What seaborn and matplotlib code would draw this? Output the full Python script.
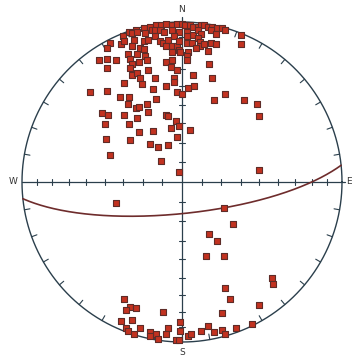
import numpy as np
import matplotlib
matplotlib.use("Agg")
import matplotlib.pyplot as plt
import seaborn as sns

# Poles plotted on a lower-hemisphere equal-area (Schmidt) net,
# given as projected coordinates (east, north) in units of the net radius.
pole_east = [
    # near-horizontal poles close to N
    -0.33, -0.29, -0.24, -0.20, -0.16, -0.13, -0.10, -0.06, -0.03, 0.00, 0.02,
    0.05, 0.07, 0.10, 0.12, 0.14, 0.16, 0.19, 0.22, 0.25, 0.27,
    -0.37, -0.31, -0.28, -0.23, -0.19, -0.17, -0.14, -0.11, -0.06, -0.02,
    0.03, 0.07, 0.10, 0.12, 0.18, 0.21,
    -0.45, -0.47, -0.38, -0.36, -0.30, -0.31, -0.26, -0.24, -0.24, -0.21,
    -0.17, -0.14, -0.12, -0.09, -0.10, -0.06, -0.05, -0.03, -0.02, -0.02,
    0.03, 0.03, 0.06, 0.10, 0.11, 0.11, 0.09, 0.14, 0.18, 0.21, 0.37, 0.37,
    0.04, 0.16,
    -0.34, -0.28, -0.23, -0.06, -0.01, -0.52, -0.47, -0.41, -0.325, -0.31,
    -0.27, -0.22, -0.10, -0.06, 0.03, 0.03, 0.17, -0.47, -0.325, -0.31,
    -0.28, -0.26, -0.21, -0.17, -0.07, -0.03, -0.05, 0.07, 0.19,
    -0.36, -0.25, -0.10, -0.05, -0.18, -0.03, 0.00, 0.075, 0.04, -0.575,
    -0.47, -0.39, -0.33, -0.16, 0.20, 0.27, 0.39, 0.47, 0.48,
    -0.34, -0.29, -0.27, -0.22, -0.21, -0.50, -0.46, -0.36, -0.28, -0.48,
    -0.33, -0.27, -0.18, -0.10, -0.09, -0.04, -0.07, -0.02, -0.03, 0.05,
    -0.475, -0.325, -0.20, -0.15, -0.09, -0.45, -0.13, -0.02, 0.48,
    # southern half
    -0.41, 0.26, 0.32, 0.17, 0.22, 0.15, 0.26, 0.56, 0.57, 0.27, 0.30, 0.48,
    0.25, -0.36, -0.325, -0.29, -0.35, -0.12, -0.38, -0.31, -0.35, -0.34,
    -0.30, -0.26, -0.20, -0.16, -0.15, -0.09, -0.10, -0.04, -0.02, -0.01,
    -0.01, 0.035, 0.055, 0.12, 0.16, 0.20, 0.25, 0.27, 0.34, 0.44, -0.20,
]
pole_north = [
    0.94, 0.95, 0.96, 0.97, 0.98, 0.98, 0.99, 0.98, 0.99, 0.99, 0.98,
    0.98, 0.97, 0.97, 0.98, 0.98, 0.97, 0.97, 0.96, 0.96, 0.95,
    0.91, 0.93, 0.94, 0.93, 0.95, 0.95, 0.95, 0.94, 0.95, 0.94,
    0.94, 0.92, 0.95, 0.925, 0.95, 0.925,
    0.87, 0.84, 0.86, 0.88, 0.89, 0.85, 0.84, 0.88, 0.83, 0.89,
    0.91, 0.88, 0.87, 0.89, 0.85, 0.85, 0.91, 0.85, 0.88, 0.825,
    0.91, 0.87, 0.87, 0.90, 0.875, 0.85, 0.84, 0.86, 0.87, 0.86, 0.92, 0.86,
    0.81, 0.82,
    0.80, 0.80, 0.79, 0.81, 0.81, 0.76, 0.77, 0.76, 0.77, 0.74,
    0.75, 0.76, 0.75, 0.76, 0.79, 0.76, 0.74, 0.71, 0.71, 0.67,
    0.68, 0.65, 0.70, 0.65, 0.72, 0.70, 0.65, 0.67, 0.65,
    0.62, 0.61, 0.60, 0.625, 0.58, 0.56, 0.55, 0.60, 0.59, 0.56,
    0.57, 0.53, 0.53, 0.52, 0.51, 0.55, 0.51, 0.49, 0.41,
    0.49, 0.46, 0.47, 0.49, 0.44, 0.43, 0.42, 0.42, 0.40, 0.36,
    0.36, 0.31, 0.32, 0.42, 0.41, 0.38, 0.34, 0.35, 0.28, 0.325,
    0.27, 0.26, 0.24, 0.22, 0.23, 0.17, 0.13, 0.06, 0.075,
    -0.13, -0.16, -0.26, -0.325, -0.37, -0.46, -0.46, -0.60, -0.64, -0.66, -0.73, -0.77,
    -0.82, -0.73, -0.78, -0.79, -0.80, -0.81, -0.87, -0.86, -0.91, -0.93,
    -0.95, -0.91, -0.94, -0.95, -0.98, -0.91, -0.95, -0.99, -0.99, -0.875,
    -0.93, -0.96, -0.95, -0.93, -0.90, -0.935, -0.925, -0.95, -0.91, -0.89, -0.96,
]

# Mean plane drawn as a great circle
plane_dip_direction = 174.0
plane_dip = 74.0

compass_labels = ["N", "E", "S", "W"]
tick_interval = 10

net_color = "#2b3f4c"
plane_color = "#6e2c2c"
pole_face = "#c23220"
pole_edge = "#5e2c28"


def equal_area(trend, plunge):
    """Lower-hemisphere Schmidt projection of lines (degrees)."""
    trend = np.radians(np.asarray(trend, dtype=float))
    plunge = np.asarray(plunge, dtype=float)
    r = np.sqrt(2.0) * np.sin(np.radians(90.0 - plunge) / 2.0)
    return r * np.sin(trend), r * np.cos(trend)


def great_circle(dip_direction, dip, n=361):
    strike = np.radians(dip_direction - 90.0)
    dd = np.radians(dip_direction)
    d = np.radians(dip)
    s_vec = np.array([np.sin(strike), np.cos(strike), 0.0])
    d_vec = np.array([np.sin(dd) * np.cos(d), np.cos(dd) * np.cos(d), np.sin(d)])
    t = np.linspace(0.0, np.pi, n)
    v = np.outer(np.cos(t), s_vec) + np.outer(np.sin(t), d_vec)
    plunge = np.degrees(np.arcsin(np.clip(v[:, 2], -1, 1)))
    trend = np.degrees(np.arctan2(v[:, 0], v[:, 1]))
    return equal_area(trend, plunge)


sns.set_theme(style="white")
plt.rcParams["font.family"] = ["DejaVu Sans"]

fig = plt.figure(figsize=(3.52, 3.61), dpi=100)
ax = fig.add_axes([0, 0, 1, 1])

# primitive circle
th = np.linspace(0, 2 * np.pi, 721)
ax.plot(np.cos(th), np.sin(th), color=net_color, lw=1.0, zorder=2)

# azimuth ticks on the primitive
for az in range(tick_interval, 360, tick_interval):
    if az % 90 == 0:
        continue
    a = np.radians(az)
    ax.plot([np.sin(a), 0.965 * np.sin(a)], [np.cos(a), 0.965 * np.cos(a)],
            color=net_color, lw=0.8, zorder=2)

# N-S and E-W diameters with plunge ticks
ax.plot([-1.0, 1.02], [0, 0], color=net_color, lw=0.9, zorder=2)
ax.plot([0, 0], [-1.0, 1.03], color=net_color, lw=0.9, zorder=2)
tick_plunges = np.arange(tick_interval, 90, tick_interval)
radii = np.sqrt(2.0) * np.sin(np.radians(90.0 - tick_plunges) / 2.0)
half = 0.016
for r in radii:
    for sgn in (-1, 1):
        ax.plot([sgn * r, sgn * r], [-half, half], color=net_color, lw=0.8, zorder=2)
        ax.plot([-half, half], [sgn * r, sgn * r], color=net_color, lw=0.8, zorder=2)

# great circle of the mean plane
gx, gy = great_circle(plane_dip_direction, plane_dip)
ax.plot(gx, gy, color=plane_color, lw=1.2, zorder=3)

# poles
sns.scatterplot(x=pole_east, y=pole_north, marker="s", s=17, color=pole_face,
                edgecolor=pole_edge, linewidth=0.8, ax=ax, zorder=4, legend=False)
ax.set_xlim(-182 / 160, 170 / 160)
ax.set_ylim(-179 / 160, 182 / 160)
ax.axis("off")

# compass letters
label_pos = {"N": (0.0, 1.075), "E": (1.045, 0.0), "S": (0.0, -1.065), "W": (-1.055, 0.0)}
for lab in compass_labels:
    x, y = label_pos[lab]
    ax.text(x, y, lab, ha="center", va="center", fontsize=6.5, color="#333333")

fig.savefig("out.png", dpi=100)
